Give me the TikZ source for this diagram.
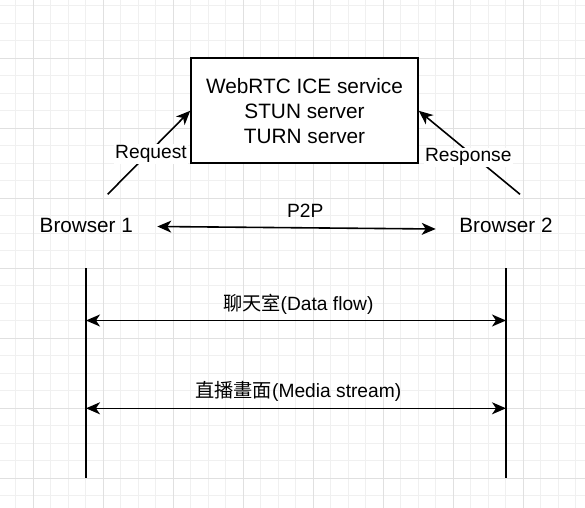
\documentclass[tikz,border=0pt]{standalone}
\usepackage{fontspec}
\setmainfont{Liberation Sans}
\newfontfamily\cjk{Noto Sans CJK TC}
\usetikzlibrary{arrows.meta}
\definecolor{gridminor}{HTML}{F0F0F0}
\definecolor{gridmajor}{HTML}{E0E0E0}
\begin{document}
\begin{tikzpicture}[x=1bp,y=-1bp,
  minorline/.style={gridminor,line width=0.8bp},
  majorline/.style={gridmajor,line width=0.8bp},
  conn/.style={line width=1.6bp,-{Stealth[length=14bp,width=12bp,inset=4bp]}},
  biconn/.style={line width=1.6bp,{Stealth[length=14bp,width=12bp,inset=4bp]}-{Stealth[length=14bp,width=12bp,inset=4bp]}},
  life/.style={line width=1.6bp},
  lbl/.style={font=\fontsize{19.2bp}{23bp}\selectfont,inner sep=1bp},
  bigLbl/.style={font=\fontsize{20.7bp}{25bp}\selectfont,inner sep=1bp},
  bglbl/.style={lbl,fill=white},
  svcbox/.style={draw,line width=1.6bp,fill=white,minimum width=227bp,minimum height=105bp,align=center,font=\fontsize{20.8bp}{25bp}\selectfont}
]
\useasboundingbox (0,0) rectangle (585,508);
\fill[white] (0,0) rectangle (585,508);
% grid
\foreach \i in {0,...,32} {\draw[minorline] ({15.8+17.5*\i},0) -- ({15.8+17.5*\i},508);}
\foreach \i in {0,...,28} {\draw[minorline] (0,{5.8+17.5*\i}) -- (585,{5.8+17.5*\i});}
\foreach \i in {0,...,7} {\draw[majorline] ({33.3+70*\i},0) -- ({33.3+70*\i},508);}
\foreach \i in {0,...,6} {\draw[majorline] (0,{58.3+70*\i}) -- (585,{58.3+70*\i});}

% nodes
\node[svcbox] (svc) at (304.5,110.8) {WebRTC ICE service\\STUN server\\TURN server};
\node[bigLbl] (b1) at (86.3,225) {Browser 1};
\node[bigLbl] (b2) at (506,225) {Browser 2};

\coordinate (r1) at (107.7,194.3);
\coordinate (r2) at (520,194.3);
\coordinate (p1) at (157.3,226.5);
\coordinate (p2) at (435.7,229);
\coordinate (l1t) at (86,268.3);
\coordinate (l1b) at (86,478);
\coordinate (l2t) at (506,268.3);
\coordinate (l2b) at (506,478);
\coordinate (d1) at (86,320.5);
\coordinate (d2) at (506,320.5);
\coordinate (m1) at (86,408.3);
\coordinate (m2) at (506,408.3);

% connectors
\draw[conn] (r1) -- (svc.west);
\draw[conn] (r2) -- (svc.east);
\node[bglbl] (reqlbl) at (151,154) {Request};
\node[bglbl] (reslbl) at (468.3,157.3) {Response};

\draw[biconn] (p1) -- (p2);
\node[lbl] (p2plbl) at (305.3,210.5) {P2P};

\draw[life] (l1t) -- (l1b);
\draw[life] (l2t) -- (l2b);

\draw[biconn] (d1) -- (d2);
\node[lbl] (dlbl) at (298.3,304) {{\cjk 聊天室}(Data flow)};
\draw[biconn] (m1) -- (m2);
\node[lbl] (mlbl) at (298.3,391.5) {{\cjk 直播畫面}(Media stream)};
\end{tikzpicture}
\end{document}
